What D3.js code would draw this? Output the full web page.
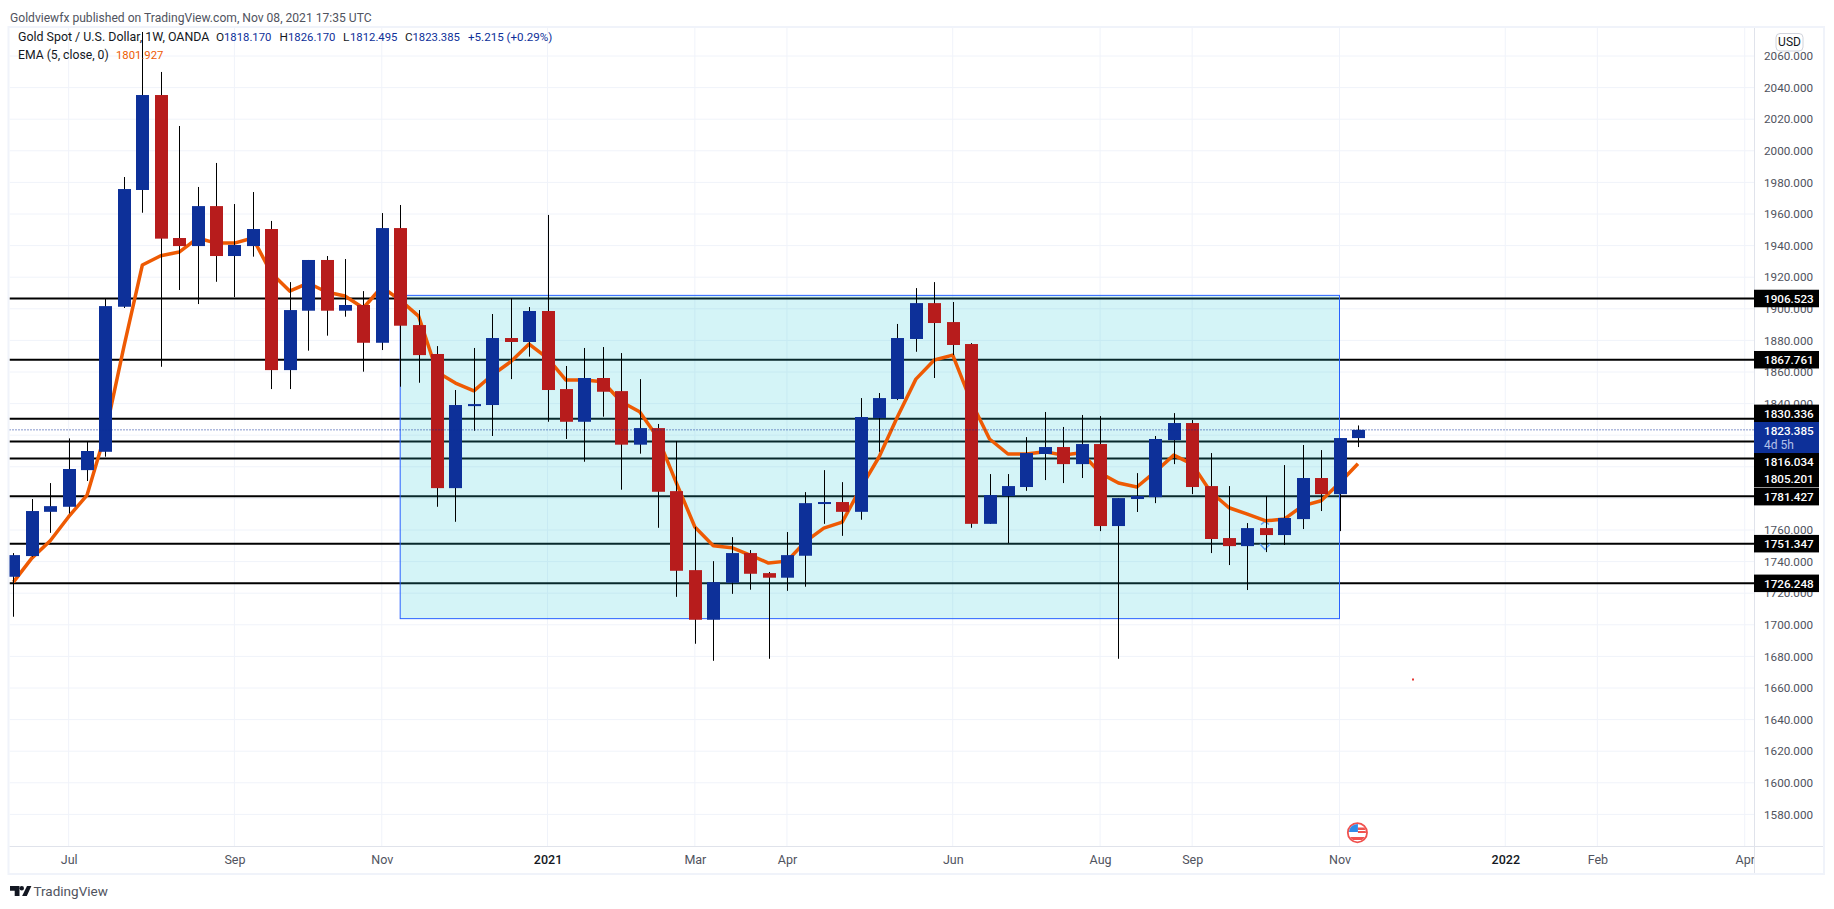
<!DOCTYPE html>
<html><head><meta charset="utf-8">
<script src="https://cdn.jsdelivr.net/npm/d3@7"></script>
<style>
html,body{margin:0;padding:0;background:#fff;overflow:hidden}
svg{display:block;position:absolute;left:0;top:0}
text{font-family:Roboto,sans-serif}
</style></head><body>
<svg id="c" width="1834" height="909"></svg>
<script>
const opens=[1730.4,1743.5,1771.5,1774.7,1797.9,1809.5,1901.3,1975.2,2035.3,1944.8,1939.7,1965,1933.4,1939.7,1950.5,1861.2,1898.8,1930.9,1898.8,1902.4,1878.5,1951.1,1889.7,1871.4,1786.5,1838.4,1839.1,1881.5,1879,1898.6,1849.2,1828.5,1856.2,1847.9,1814,1824.5,1784.6,1734.6,1703.2,1726.6,1745.4,1732.7,1729.8,1743.7,1776.6,1777.7,1771.5,1830.9,1842.9,1880.9,1903.6,1891.6,1877.7,1763.9,1781.5,1787.2,1808.1,1812.5,1801.7,1814.4,1762.5,1779.6,1780.8,1816.9,1827.7,1787.8,1754.9,1749.8,1761.2,1756.8,1766.9,1792.9,1782.7,1818.17];
const highs=[1745.4,1779.6,1789.7,1818,1815.8,1906.8,1983.4,2075.2,2049.9,2015.7,1977.1,1992.3,1966.3,1973.9,1955.6,1916.9,1930.9,1933.4,1931.5,1911.2,1960.6,1965.7,1899.2,1876.4,1848.6,1875.2,1896.7,1906.8,1901.1,1959.4,1863.8,1875.2,1875.8,1872,1855.5,1827.1,1816.3,1762,1740.3,1755.5,1747.3,1733.4,1758.7,1784,1797.9,1790.3,1843.5,1846.7,1890.4,1913.1,1916.9,1904.3,1878.3,1795.4,1795.4,1818.8,1834.7,1825.2,1832.8,1832.1,1780.2,1796,1819.5,1834,1829.6,1808.7,1787.8,1764.4,1781.5,1801.1,1813.8,1810.6,1818.2,1826.17];
const lows=[1705.1,1743.1,1758.2,1770.5,1791,1806.4,1900.5,1960.8,1863.3,1911.9,1903,1917.1,1907.4,1933,1849.2,1849.2,1873.5,1883,1895,1860.2,1873.9,1850.7,1853.2,1774.7,1765.2,1822.8,1819.5,1855.5,1869.7,1828.5,1817.6,1803.2,1831.7,1785.5,1808.3,1761.4,1717.7,1688,1677.2,1719.6,1722.2,1678.5,1721.5,1724.1,1763.9,1756.3,1766.5,1809.5,1842.2,1872.8,1856.2,1870.7,1761.4,1763.9,1751.7,1784.8,1791.6,1789.7,1792.9,1759.3,1678.5,1771.4,1777,1801.7,1782.7,1745.4,1737.8,1722,1746,1750.5,1760.6,1772,1759.3,1812.495];
const closes=[1744.1,1772,1775.1,1798.6,1810,1901.7,1975.8,2035.3,1944.4,1939.7,1965,1933.4,1940.4,1950.5,1861.2,1899.2,1930.9,1898.8,1902.4,1878.5,1951.1,1889.3,1870.7,1786.5,1839.1,1839.7,1881.5,1879,1898.6,1848.6,1828.5,1856.2,1847.5,1814,1824.5,1784.2,1734.2,1703.2,1727,1745.4,1732.3,1729.8,1744.1,1777,1777.7,1771.5,1831.5,1843.5,1881.5,1903.6,1891,1877.1,1763.9,1782.1,1787.8,1808.7,1812.5,1801.7,1814.4,1762.5,1780.2,1781.5,1817.6,1827.7,1787.2,1754.3,1749.8,1761.2,1756.8,1767.6,1792.9,1782.7,1818.2,1823.385];
const ema5=[1727,1742.2,1753.2,1768.4,1782.1,1821.4,1876,1927.7,1933.6,1935.9,1944.8,1941.6,1941.6,1944.8,1922.6,1911.2,1916.3,1910.6,1908.1,1900.5,1913.8,1905.5,1895.4,1860,1853,1848.1,1858.1,1866.5,1877.7,1868.8,1854.9,1854.9,1853.8,1841.2,1834.8,1818.2,1789.7,1761.9,1750,1748.8,1744.1,1739.1,1740.3,1752.6,1761.2,1765,1786.5,1806.2,1831.7,1855.5,1867.6,1870.7,1841.2,1817.6,1808.1,1808.1,1809.5,1807.4,1808.9,1796,1789.7,1787.2,1796.9,1807.4,1801.7,1784.2,1774.1,1770.1,1765.8,1766.9,1775.3,1778.5,1789.7,1801.927];
const levels=[1906.523,1867.761,1830.336,1816.034,1805.201,1781.427,1751.347,1726.248];
const lastClose=1823.385;
const rangeBox={i0:21,i1:72,top:1908.5,bottom:1703.9};
const priceTicks=d3.range(1580,2061,20);
const timeTickIdx=[3,12,20,29,37,42,51,59,64,72,81,86,94];
const timeTickLabels=["Jul","Sep","Nov","2021","Mar","Apr","Jun","Aug","Sep","Nov","2022","Feb","Apr"];
const yearLabels=["2021","2022"];
const headerText="Goldviewfx published on TradingView.com, Nov 08, 2021 17:35 UTC";

const L=9.5,R=1754,T=28,B=846,FR=1823,FB=873;
const x=d3.scaleLinear().domain([0,94]).range([13.4,1744.7]);
const y=d3.scaleLinear().domain([1580,2060]).range([814.4,56]);
const BLUE="#0d3099",RED="#b71c1c",ORANGE="#ee5a03",BLK="#000";
const candles=opens.map((o,i)=>({i,o,h:highs[i],l:lows[i],c:closes[i]}));

const svg=d3.select("#c");
svg.append("defs").append("clipPath").attr("id","plot").append("rect").attr("x",L).attr("y",T).attr("width",R-L).attr("height",B-T);
svg.select("defs").append("clipPath").attr("id","flag").append("circle").attr("cx",x(73)-.5).attr("cy",832.7).attr("r",8.6);

svg.append("text").attr("x",10).attr("y",22).attr("font-size",12.1).attr("fill","#50535e").text(headerText);
svg.append("rect").attr("x",L-1).attr("y",T-1).attr("width",FR-L+2).attr("height",FB-T+2).attr("fill","#fff").attr("stroke","#f0f3fa").attr("stroke-width",2);

const plot=svg.append("g").attr("clip-path","url(#plot)");
plot.append("g").selectAll("line").data(priceTicks).join("line")
 .attr("x1",L).attr("x2",R).attr("y1",d=>y(d)).attr("y2",d=>y(d)).attr("stroke","#f0f3fa");
plot.append("g").selectAll("line").data(timeTickIdx).join("line")
 .attr("x1",d=>x(d)).attr("x2",d=>x(d)).attr("y1",T).attr("y2",B).attr("stroke","#f0f3fa");

plot.append("g").selectAll("line").data(levels).join("line")
 .attr("x1",L).attr("x2",R).attr("y1",d=>y(d)).attr("y2",d=>y(d)).attr("stroke",BLK).attr("stroke-width",2);

plot.append("rect").attr("x",x(rangeBox.i0)).attr("y",y(rangeBox.top)).attr("width",x(rangeBox.i1)-x(rangeBox.i0)).attr("height",y(rangeBox.bottom)-y(rangeBox.top))
 .attr("fill","rgba(40,200,215,.2)").attr("stroke","#2962ff").attr("stroke-width",1);

plot.append("path").attr("d","M1261 524.5L1265 521.5L1269 524.5M1260 544L1265 549.5L1270 544").attr("fill","none").attr("stroke","#5b9cf6").attr("stroke-width",1.5);

plot.append("path").attr("d",d3.line().x((d,i)=>x(i)).y(d=>y(d))(ema5)).attr("fill","none").attr("stroke",ORANGE).attr("stroke-width",3.5).attr("stroke-linejoin","round");

plot.append("g").selectAll("line").data(candles).join("line")
 .attr("x1",d=>Math.round(x(d.i))+.5).attr("x2",d=>Math.round(x(d.i))+.5).attr("y1",d=>y(d.h)).attr("y2",d=>y(d.l)).attr("stroke",BLK).attr("stroke-width",1);
plot.append("g").selectAll("rect").data(candles).join("rect")
 .attr("x",d=>Math.round(x(d.i))-6).attr("width",13)
 .attr("y",d=>y(Math.max(d.o,d.c)))
 .attr("height",d=>Math.max(2,Math.abs(y(d.o)-y(d.c))))
 .attr("fill",d=>d.c>=d.o?BLUE:RED);

plot.append("line").attr("x1",L).attr("x2",R).attr("y1",y(lastClose)).attr("y2",y(lastClose)).attr("stroke","#0d3099").attr("stroke-width",1).attr("stroke-dasharray","1 2");

plot.append("rect").attr("x",1412).attr("y",678.5).attr("width",2).attr("height",2).attr("fill","#e53935");

const flag=plot.append("g");
flag.append("circle").attr("cx",x(73)-.5).attr("cy",832.7).attr("r",9.6).attr("fill","#fff").attr("stroke","#f0524f").attr("stroke-width",1.8);
const fg=flag.append("g").attr("clip-path","url(#flag)");
fg.append("rect").attr("x",x(73)-9).attr("y",824).attr("width",9).attr("height",8).attr("fill","#2f8ce8");
fg.append("rect").attr("x",x(73)).attr("y",827.5).attr("width",10).attr("height",2.5).attr("fill","#f0524f");
fg.append("rect").attr("x",x(73)).attr("y",831).attr("width",10).attr("height",2).attr("fill","#f0524f");
fg.append("rect").attr("x",x(73)-10).attr("y",837).attr("width",20).attr("height",3).attr("fill","#f0524f");

const legendItems=[[18,41,"Gold Spot / U.S. Dollar, 1W, OANDA","#131722",12.4],[216,41,"O","#131722",11.8],[224,41,"1818.170",BLUE,11.3],[279.5,41,"H","#131722",11.8],[288,41,"1826.170",BLUE,11.3],[343,41,"L","#131722",11.8],[350,41,"1812.495",BLUE,11.3],[405,41,"C","#131722",11.8],[412.5,41,"1823.385",BLUE,11.3],[468,41,"+5.215 (+0.29%)",BLUE,11.6],[18,59,"EMA (5, close, 0)","#131722",12.2],[116,59,"1801.927",ORANGE,11.3]];
svg.append("g").selectAll("text").data(legendItems).join("text").attr("x",d=>d[0]).attr("y",d=>d[1]).attr("fill",d=>d[3]).attr("font-size",d=>d[4]).text(d=>d[2]);

const xAxis=d3.axisBottom(x).tickValues(timeTickIdx).tickFormat((d,i)=>timeTickLabels[i]).tickSize(0).tickPadding(9);
const xg=svg.append("g").attr("transform",`translate(0,${B})`).call(xAxis);
xg.select(".domain").remove();
xg.selectAll("text").attr("font-size",12.5).attr("font-family","Roboto,sans-serif").attr("fill",d=>"#50535e");
xg.selectAll("text").filter(function(){return yearLabels.includes(this.textContent)}).attr("fill","#131722").attr("font-weight",500);

svg.append("rect").attr("x",R).attr("y",T).attr("width",FR-R).attr("height",FB-T).attr("fill","#fff");
svg.append("line").attr("x1",L).attr("x2",FR).attr("y1",B+.5).attr("y2",B+.5).attr("stroke","#e0e3eb");
svg.append("line").attr("x1",R+.5).attr("x2",R+.5).attr("y1",T).attr("y2",FB).attr("stroke","#e0e3eb");

const yAxis=d3.axisRight(y).tickValues(priceTicks).tickFormat(d3.format(".3f")).tickSize(0).tickPadding(10);
const yg=svg.append("g").attr("transform",`translate(${R},0)`).call(yAxis);
yg.select(".domain").remove();
yg.selectAll("text").attr("font-size",11.7).attr("font-family","Roboto,sans-serif").attr("fill","#50535e");

svg.append("rect").attr("x",1776).attr("y",33.5).attr("width",27).attr("height",17.5).attr("rx",4).attr("fill","#fff").attr("stroke","#d1d4dc");
svg.append("text").attr("x",1789.5).attr("y",46).attr("text-anchor","middle").attr("font-size",12).attr("fill","#131722").text("USD");

const tagShift=[0,0,-5.5,20,20,.5,0,0];
const tags=svg.append("g");
tags.selectAll("rect").data(levels).join("rect").attr("x",R).attr("width",65).attr("height",17.5)
 .attr("y",(d,i)=>y(d)+tagShift[i]-8.75).attr("fill","#000");
tags.selectAll("text").data(levels).join("text").attr("x",1764).attr("y",(d,i)=>y(d)+tagShift[i]+4.5)
 .attr("font-size",11.7).attr("font-weight",500).attr("fill","#fff").text(d=>d3.format(".3f")(d));
svg.append("rect").attr("x",R).attr("y",422).attr("width",65).attr("height",31).attr("fill",BLUE);
svg.append("text").attr("x",1764).attr("y",434.5).attr("font-size",11.7).attr("font-weight",500).attr("fill","#fff").text(d3.format(".3f")(lastClose));
svg.append("text").attr("x",1764).attr("y",449).attr("font-size",12).attr("fill","#b2c0ea").text("4d 5h");

svg.append("path").attr("d","M10 886h9.5v10h-4.8v-5.3h-4.7zM27 886h4.4l-4.6 10h-4.7zM24 888.3a2.2 2.2 0 1 1-4.4 0a2.2 2.2 0 1 1 4.4 0z").attr("fill","#131722");
svg.append("text").attr("x",33.5).attr("y",896).attr("font-size",13.5).attr("fill","#50535e").text("TradingView");
</script></body></html>
